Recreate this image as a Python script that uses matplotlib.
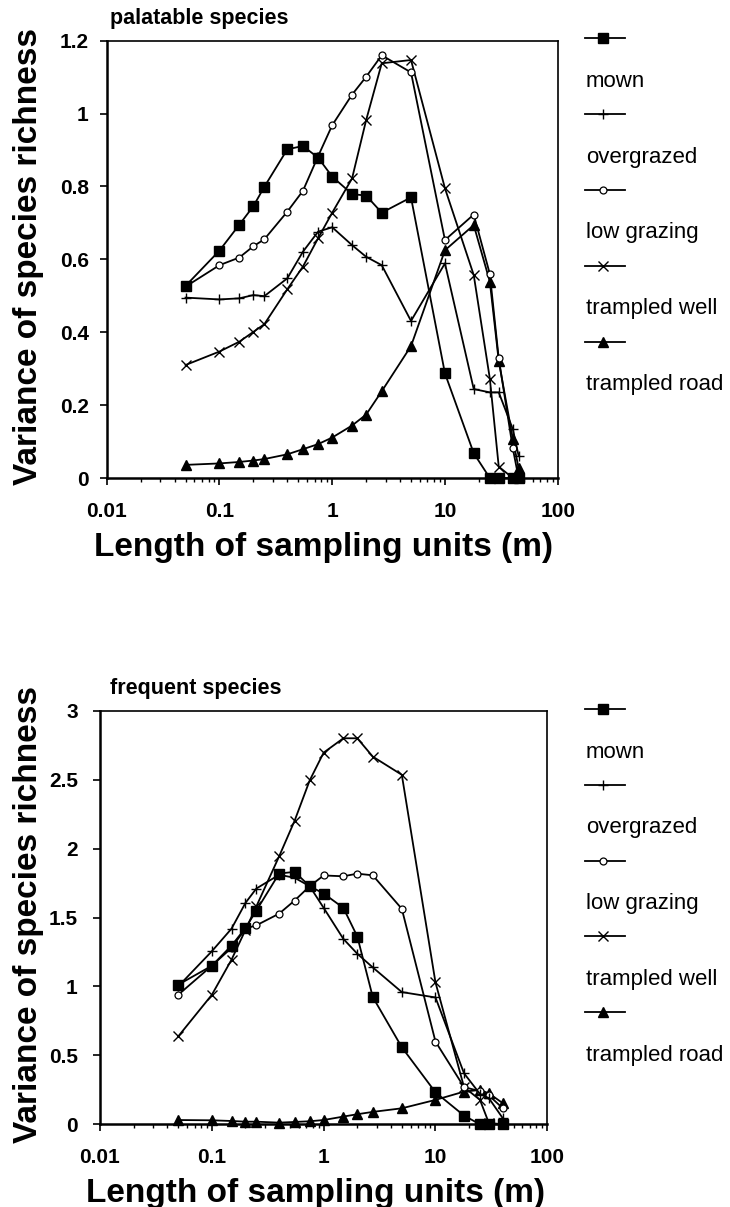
import matplotlib
matplotlib.use("Agg")
import matplotlib.pyplot as plt
from matplotlib.lines import Line2D
from matplotlib.ticker import FuncFormatter, FixedLocator, LogLocator, NullFormatter

plt.rcParams['font.family'] = ['Liberation Sans', 'DejaVu Sans']

# ---- data ----
x_top = [0.05, 0.1, 0.15, 0.2, 0.25, 0.4, 0.55, 0.75, 1, 1.5, 2, 2.75, 5, 10, 18, 25, 30, 40, 45]
x_bot = [0.05, 0.1, 0.15, 0.2, 0.25, 0.4, 0.55, 0.75, 1, 1.5, 2, 2.75, 5, 10, 18, 25, 30, 40]

series_names = ["mown", "overgrazed", "low grazing", "trampled well", "trampled road"]

mown_top = [0.527, 0.624, 0.695, 0.746, 0.799, 0.902, 0.911, 0.879, 0.827, 0.779, 0.775, 0.728, 0.770, 0.287, 0.068, 0, 0, 0, 0]
overgrazed_top = [0.495, 0.490, 0.493, 0.502, 0.499, 0.548, 0.621, 0.676, 0.688, 0.639, 0.607, 0.584, 0.431, 0.589, 0.244, 0.235, 0.235, 0.134, 0.061]
lowgrazing_top = [0.525, 0.584, 0.605, 0.636, 0.655, 0.731, 0.788, 0.883, 0.968, 1.052, 1.101, 1.160, 1.113, 0.653, 0.723, 0.560, 0.328, 0.081, 0.0]
well_top = [0.310, 0.347, 0.374, 0.401, 0.422, 0.518, 0.580, 0.658, 0.728, 0.822, 0.982, 1.138, 1.147, 0.795, 0.557, 0.273, 0.031, 0, 0]
road_top = [0.036, 0.040, 0.044, 0.048, 0.052, 0.065, 0.079, 0.093, 0.111, 0.144, 0.174, 0.238, 0.362, 0.625, 0.694, 0.539, 0.321, 0.107, 0.027]

mown_bot = [1.012, 1.150, 1.296, 1.424, 1.550, 1.819, 1.831, 1.727, 1.674, 1.570, 1.362, 0.923, 0.559, 0.232, 0.063, 0, 0, 0]
overgrazed_bot = [1.0, 1.255, 1.419, 1.606, 1.71, 1.81, 1.788, 1.727, 1.570, 1.345, 1.237, 1.138, 0.959, 0.920, 0.370, 0.22, 0.19, 0.044]
lowgrazing_bot = [0.939, 1.15, 1.28, 1.42, 1.443, 1.528, 1.623, 1.727, 1.805, 1.799, 1.818, 1.806, 1.563, 0.600, 0.27, 0.24, 0.21, 0.116]
well_bot = [0.637, 0.939, 1.194, 1.41, 1.58, 1.944, 2.202, 2.494, 2.696, 2.800, 2.800, 2.667, 2.535, 1.029, 0.27, 0.177, 0.01, 0.0]
road_bot = [0.031, 0.029, 0.024, 0.019, 0.019, 0.012, 0.017, 0.022, 0.031, 0.056, 0.073, 0.090, 0.116, 0.177, 0.237, 0.249, 0.225, 0.153]

x_ticks = [0.01, 0.1, 1, 10, 100]
y_ticks_top = [0, 0.2, 0.4, 0.6, 0.8, 1.0, 1.2]
y_ticks_bot = [0, 0.5, 1, 1.5, 2, 2.5, 3]

# ---- styles ----
styles = [
    dict(marker='s', ms=6.5, mfc='black', mec='black'),
    dict(marker='+', ms=7, mfc='black', mec='black', mew=1.0),
    dict(marker='o', ms=5, mfc='white', mec='black', mew=0.9),
    dict(marker='x', ms=6.5, mfc='black', mec='black', mew=1.0),
    dict(marker='^', ms=6.5, mfc='black', mec='black'),
]

fig = plt.figure(figsize=(7.3, 12.07), dpi=100)
W, H = 730.0, 1207.0

def make_axes(rect_px, x, ys, yticks, ymax, title, ylab_pad, legend_y0, xlab_cx):
    left, top, right, bottom = rect_px
    ax = fig.add_axes([left / W, 1 - bottom / H, (right - left) / W, (bottom - top) / H])
    n = len(ys)
    for i, (y, st) in enumerate(zip(ys, styles)):
        ax.plot(x, y, color='black', lw=1.3, clip_on=False, zorder=3 + (n - i) * 0.1, **st)
    ax.set_xscale('log')
    ax.set_xlim(0.01, 100)
    ax.set_ylim(0, ymax)
    ax.xaxis.set_major_locator(FixedLocator(x_ticks))
    ax.xaxis.set_major_formatter(FuncFormatter(lambda v, p: '%g' % v))
    ax.xaxis.set_minor_locator(LogLocator(base=10, subs=range(2, 10), numticks=20))
    ax.xaxis.set_minor_formatter(NullFormatter())
    ax.yaxis.set_major_locator(FixedLocator(yticks))
    ax.yaxis.set_major_formatter(FuncFormatter(lambda v, p: '%g' % v))
    ax.tick_params(axis='x', which='major', direction='out', length=5, width=1.2, pad=12,
                   labelsize=15)
    ax.tick_params(axis='x', which='minor', direction='out', length=3, width=1.0)
    ax.tick_params(axis='y', which='major', direction='out', length=5, width=1.2, pad=ylab_pad,
                   labelsize=15)
    for lab in ax.get_xticklabels() + ax.get_yticklabels():
        lab.set_fontweight('bold')
    for s in ax.spines.values():
        s.set_linewidth(1.2)
    ax.spines['left'].set_linewidth(1.8)
    ax.spines['bottom'].set_linewidth(1.8)
    # axis titles
    fig.text(xlab_cx / W, 1 - (bottom + 78) / H, 'Length of sampling units (m)', fontsize=24,
             fontweight='bold', ha='center', va='baseline')
    fig.text(29 / W, 1 - ((top + bottom) / 2 - 3) / H, 'Variance of species richness', fontsize=24,
             fontweight='bold', ha='center', va='center', rotation=90)
    fig.text(110 / W, 1 - (top - 17) / H, title, fontsize=15.5, fontweight='bold',
             ha='left', va='baseline')
    # legend
    for i, (name, st) in enumerate(zip(series_names, styles)):
        hy = legend_y0 + i * 75.8
        ly = hy + 43
        ln = Line2D([585 / W, 603 / W, 625 / W], [1 - hy / H] * 3, color='black', lw=1.3,
                    markevery=[1], transform=fig.transFigure, **st)
        fig.add_artist(ln)
        fig.text(586 / W, 1 - ly / H, name, fontsize=16, ha='left', va='center')
    return ax

ax1 = make_axes((106.7, 40.7, 557.7, 478), x_top,
                [mown_top, overgrazed_top, lowgrazing_top, well_top, road_top],
                y_ticks_top, 1.2, 'palatable species', 8, 38.3, 323)
ax2 = make_axes((100, 710.7, 547.3, 1124.3), x_bot,
                [mown_bot, overgrazed_bot, lowgrazing_bot, well_bot, road_bot],
                y_ticks_bot, 3, 'frequent species', 11, 709, 316)

fig.savefig('out.png', dpi=100)
